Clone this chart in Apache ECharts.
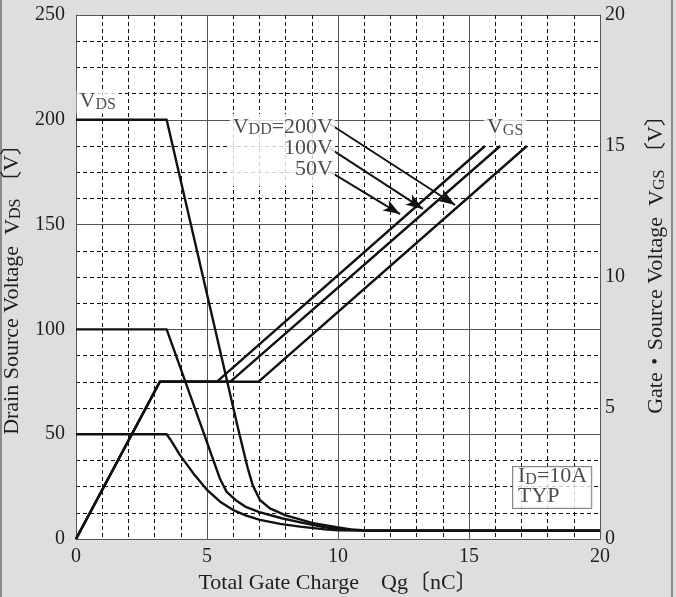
<!DOCTYPE html>
<html>
<head>
<meta charset="utf-8">
<script src="https://cdn.jsdelivr.net/npm/echarts@6/dist/echarts.min.js"></script>
<style>
html,body{margin:0;padding:0;background:#dedede;}
#c{width:676px;height:597px;}
</style>
</head>
<body>
<div id="c"></div>
<script>
// ---- data ----
const xTicks = [0, 5, 10, 15, 20];
const vdsTicks = [0, 50, 100, 150, 200, 250];
const vgsTicks = [0, 5, 10, 15, 20];

// VDS curves (left axis, V) vs Qg (nC)
const vds200 = [[0,200],[3.46,200],[6.2,52],[6.55,34],[6.75,25.5],[7.02,18.6],[7.4,14.6],[8.0,11.3],[8.55,9.4],[9.0,7.7],[9.95,5.6],[10.5,4.6],[11.2,4],[20,4]];
const vds100 = [[0,100],[3.46,100],[4.92,49],[5.24,37.7],[5.5,28.6],[5.75,22.5],[6.1,18.5],[6.5,15.2],[7.0,12.8],[7.85,9.9],[8.7,7.6],[9.5,5.6],[10.0,4.7],[11,4],[20,4]];
const vds50  = [[0,50],[3.46,50],[3.6,47.5],[3.97,40],[4.48,31.3],[4.99,23.6],[5.5,17.8],[6.0,13.8],[6.5,11.2],[7.02,9.1],[7.79,7.2],[8.55,5.9],[9.5,4.6],[10.0,4.2],[11,4],[20,4]];

// VGS curves (right axis, V) vs Qg (nC)
const vgs50  = [[0,0],[3.2,6],[5.37,6],[15.61,15]];
const vgs100 = [[0,0],[3.2,6],[5.88,6],[16.19,15]];
const vgs200 = [[0,0],[3.2,6],[6.96,6],[17.21,15]];

// arrows from VDD labels to VGS curves (Qg nC, VGS V)
const arrow200 = [[9.69,15.84],[14.47,12.75]];
const arrow100 = [[9.69,14.91],[13.24,12.6]];
const arrow50  = [[9.69,14.02],[12.37,12.4]];

// annotation anchors (Qg nC, VDS V)
const labelVDS = [0.02, 208.5];
const labelVGS = [15.57, 196.1];
const labelVDD = [9.885, 202.8];
const labelID  = [16.68, 34.3];

const FONT = "'Liberation Serif','Noto Sans CJK JP',serif";
const TXT = '#1e1e1e';
function rich(size, sub, lh) {
  return {
    v: {fontFamily: FONT, fontSize: size, color: TXT, verticalAlign: 'bottom', lineHeight: lh},
    s: {fontFamily: FONT, fontSize: sub, color: TXT, verticalAlign: 'bottom', lineHeight: lh}
  };
}

const chart = echarts.init(document.getElementById('c'), null, {renderer: 'canvas'});

function curve(name, data, yIdx) {
  return {
    name, type: 'line', data, yAxisIndex: yIdx, showSymbol: false, symbol: 'none',
    silent: true, animation: false,
    lineStyle: {color: '#111', width: 2.4, join: 'round'},
    z: 5
  };
}

function arrowLine(pts) {
  return [{coord: pts[0]}, {coord: pts[1]}];
}

function anno(pos, formatter, extra) {
  return {
    value: pos,
    label: Object.assign({
      show: true, formatter, position: [0, 0],
      fontFamily: FONT, fontSize: 22, color: TXT,
      backgroundColor: '#fff', rich: rich(22, 16, 21)
    }, extra)
  };
}

const option = {
  animation: false,
  backgroundColor: '#dedede',
  grid: {left: 76, top: 15, width: 524, height: 524, show: true, backgroundColor: '#fff', borderWidth: 0,
         containLabel: false, outerBoundsMode: 'none'},
  xAxis: {
    type: 'value', min: xTicks[0], max: xTicks[xTicks.length-1], interval: 5,
    name: 'Total Gate Charge　Qg〔nC〕', nameLocation: 'middle', nameGap: 30,
    nameTextStyle: {fontFamily: FONT, fontSize: 22, color: TXT},
    axisLine: {show: true, lineStyle: {color: '#555', width: 1}},
    axisTick: {show: false},
    axisLabel: {fontFamily: FONT, fontSize: 20, color: TXT, margin: 8},
    splitLine: {show: true, lineStyle: {color: '#555', width: 1}},
    minorTick: {show: false, splitNumber: 5},
    minorSplitLine: {show: true, lineStyle: {color: '#111', width: 1, type: [4, 3]}}
  },
  yAxis: [{
    type: 'value', min: vdsTicks[0], max: vdsTicks[vdsTicks.length-1], interval: 50,
    position: 'left',
    name: 'Drain Source Voltage  {v|V}{s|DS} 〔V〕', nameLocation: 'middle', nameGap: 46, nameRotate: 90,
    nameTextStyle: {fontFamily: FONT, fontSize: 22, color: TXT, rich: rich(22, 16, 24), padding: [0, 14, 0, 0]},
    axisLine: {show: true, lineStyle: {color: '#555', width: 1}},
    axisTick: {show: false},
    axisLabel: {fontFamily: FONT, fontSize: 20, color: TXT, margin: 11},
    splitLine: {show: true, lineStyle: {color: '#555', width: 1}},
    minorTick: {show: false, splitNumber: 4},
    minorSplitLine: {show: true, lineStyle: {color: '#111', width: 1, type: [4, 3]}}
  }, {
    type: 'value', min: vgsTicks[0], max: vgsTicks[vgsTicks.length-1], interval: 5,
    position: 'right',
    name: 'Gate・Source Voltage  {v|V}{s|GS} 〔V〕', nameLocation: 'middle', nameGap: 44, nameRotate: 90,
    nameTextStyle: {fontFamily: FONT, fontSize: 22, color: TXT, rich: rich(22, 16, 24), padding: [0, 0, 0, 36]},
    axisLine: {show: true, lineStyle: {color: '#555', width: 1}},
    axisTick: {show: false},
    axisLabel: {fontFamily: FONT, fontSize: 20, color: TXT, margin: 5},
    splitLine: {show: false}
  }],
  graphic: [
    {type: 'line', shape: {x1: 1, y1: 0, x2: 1, y2: 597}, style: {stroke: '#8a8a8a', lineWidth: 2}, silent: true},
    {type: 'line', shape: {x1: 672, y1: 0, x2: 672, y2: 597}, style: {stroke: '#8a8a8a', lineWidth: 2}, silent: true}
  ],
  series: [
    curve('VDS 200V', vds200, 0),
    curve('VDS 100V', vds100, 0),
    curve('VDS 50V', vds50, 0),
    curve('VGS 50V', vgs50, 1),
    curve('VGS 100V', vgs100, 1),
    Object.assign(curve('VGS 200V', vgs200, 1), {
      markLine: {
        silent: true, animation: false,
        symbol: ['none', 'arrow'], symbolSize: [9, 17],
        label: {show: false},
        lineStyle: {color: '#111', width: 1.9, type: 'solid'},
        emphasis: {disabled: true},
        data: [arrowLine(arrow200), arrowLine(arrow100), arrowLine(arrow50)]
      }
    }),
    {
      name: 'annotations', type: 'scatter', yAxisIndex: 0, symbolSize: 0, silent: true, z: 10,
      data: [
        anno(labelVDS, '{v|V}{s|DS}', {align: 'left', verticalAlign: 'middle', padding: [1, 3, 1, 3]}),
        anno(labelVGS, '{v|V}{s|GS}', {align: 'left', verticalAlign: 'middle', padding: [1, 3, 1, 3]}),
        anno(labelVDD, '{v|V}{s|DD}{v|=200V}\n{v|100V}\n{v|50V}', {align: 'right', verticalAlign: 'top', padding: [3, 2, 6, 3],
          rich: rich(22, 16, 21)}),
        anno(labelID, '{v|I}{s|D}{v|=10A}\n{v|TYP}', {align: 'left', verticalAlign: 'top', padding: [1, 4, 1, 5], borderColor: '#666', borderWidth: 1,
          rich: rich(22, 16, 19.5)})
      ]
    }
  ]
};
chart.setOption(option);
</script>
</body>
</html>
